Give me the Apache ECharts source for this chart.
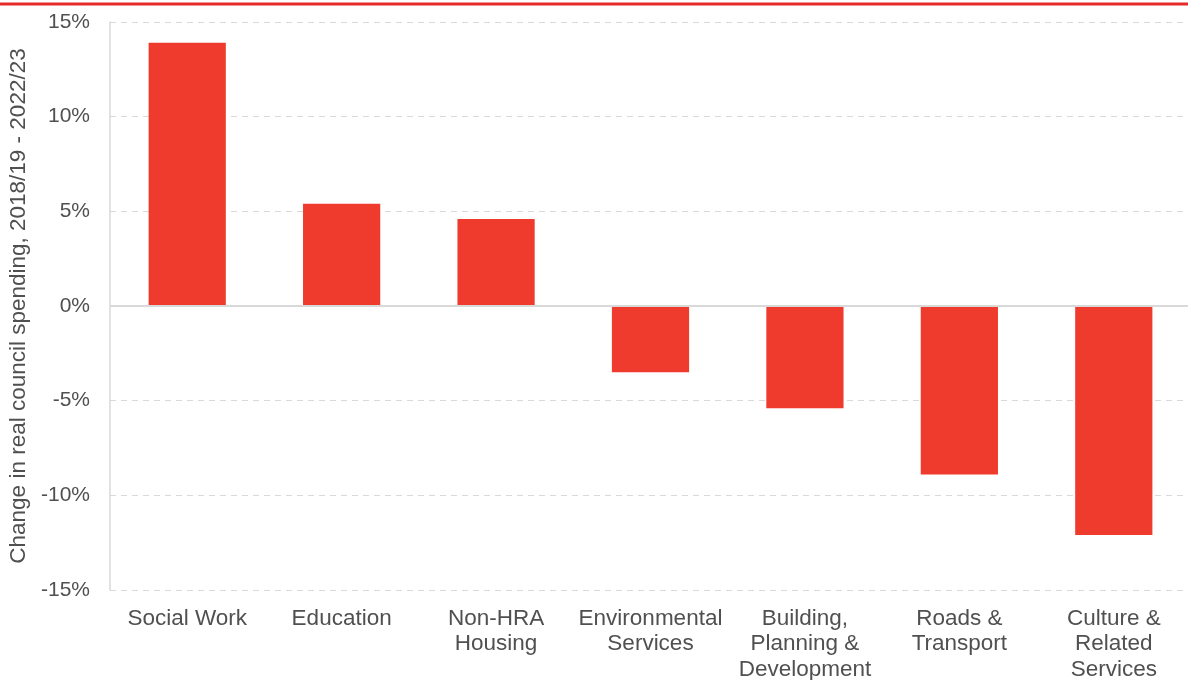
<!DOCTYPE html>
<html>
<head>
<meta charset="utf-8">
<script src="https://cdn.jsdelivr.net/npm/echarts@6/dist/echarts.min.js"></script>
<style>
html,body{margin:0;padding:0;background:#fff;}
#chart{width:1188px;height:680px;}
</style>
</head>
<body>
<div id="chart"></div>
<script>
const categories = ["Social Work", "Education", "Non-HRA\nHousing", "Environmental\nServices", "Building,\nPlanning &\nDevelopment", "Roads &\nTransport", "Culture &\nRelated\nServices"];
const values = [13.9, 5.4, 4.6, -3.5, -5.4, -8.9, -12.1];
const yTicks = { min: -15, max: 15, interval: 5 };
const yAxisName = "Change in real council spending, 2018/19 - 2022/23";

const FONT = 'Liberation Sans, Arial, sans-serif';
const chart = echarts.init(document.getElementById('chart'), null, { renderer: 'canvas' });
chart.setOption({
  animation: false,
  backgroundColor: '#ffffff',
  textStyle: { fontFamily: FONT },
  graphic: [{
    type: 'line',
    shape: { x1: 0, y1: 4, x2: 1188, y2: 4 },
    style: { stroke: '#e52a2a', lineWidth: 3 }
  }],
  grid: { left: 110, top: 22, width: 1081, bottom: 90, containLabel: false, outerBoundsMode: 'none' },
  xAxis: {
    type: 'category',
    data: categories,
    axisLine: { show: false, onZero: false },
    axisTick: { show: false },
    axisLabel: {
      color: '#505050', fontSize: 22.5, lineHeight: 25.5, margin: 16,
      interval: 0, fontFamily: FONT
    },
    splitLine: { show: false }
  },
  yAxis: {
    type: 'value',
    min: yTicks.min, max: yTicks.max, interval: yTicks.interval,
    name: yAxisName,
    nameLocation: 'middle',
    nameGap: 79,
    nameRotate: 90,
    nameTextStyle: { color: '#505050', fontSize: 22.5, fontFamily: FONT },
    axisLine: { show: true, lineStyle: { color: '#d9d9d9', width: 1.5 } },
    axisTick: { show: false },
    axisLabel: {
      color: '#505050', fontSize: 21, margin: 20,
      formatter: v => v + '%',
      fontFamily: FONT
    },
    splitLine: { show: true, lineStyle: { color: '#d9d9d9', type: [6, 5], width: 1 } }
  },
  series: [{
    type: 'bar',
    data: values,
    barWidth: '50%',
    itemStyle: { color: '#ee3b2d' },
    markLine: {
      silent: true,
      symbol: 'none',
      label: { show: false },
      lineStyle: { color: '#d9d9d9', type: 'solid', width: 2 },
      data: [{ yAxis: 0 }]
    },
    z: 3
  }]
});
</script>
</body>
</html>
